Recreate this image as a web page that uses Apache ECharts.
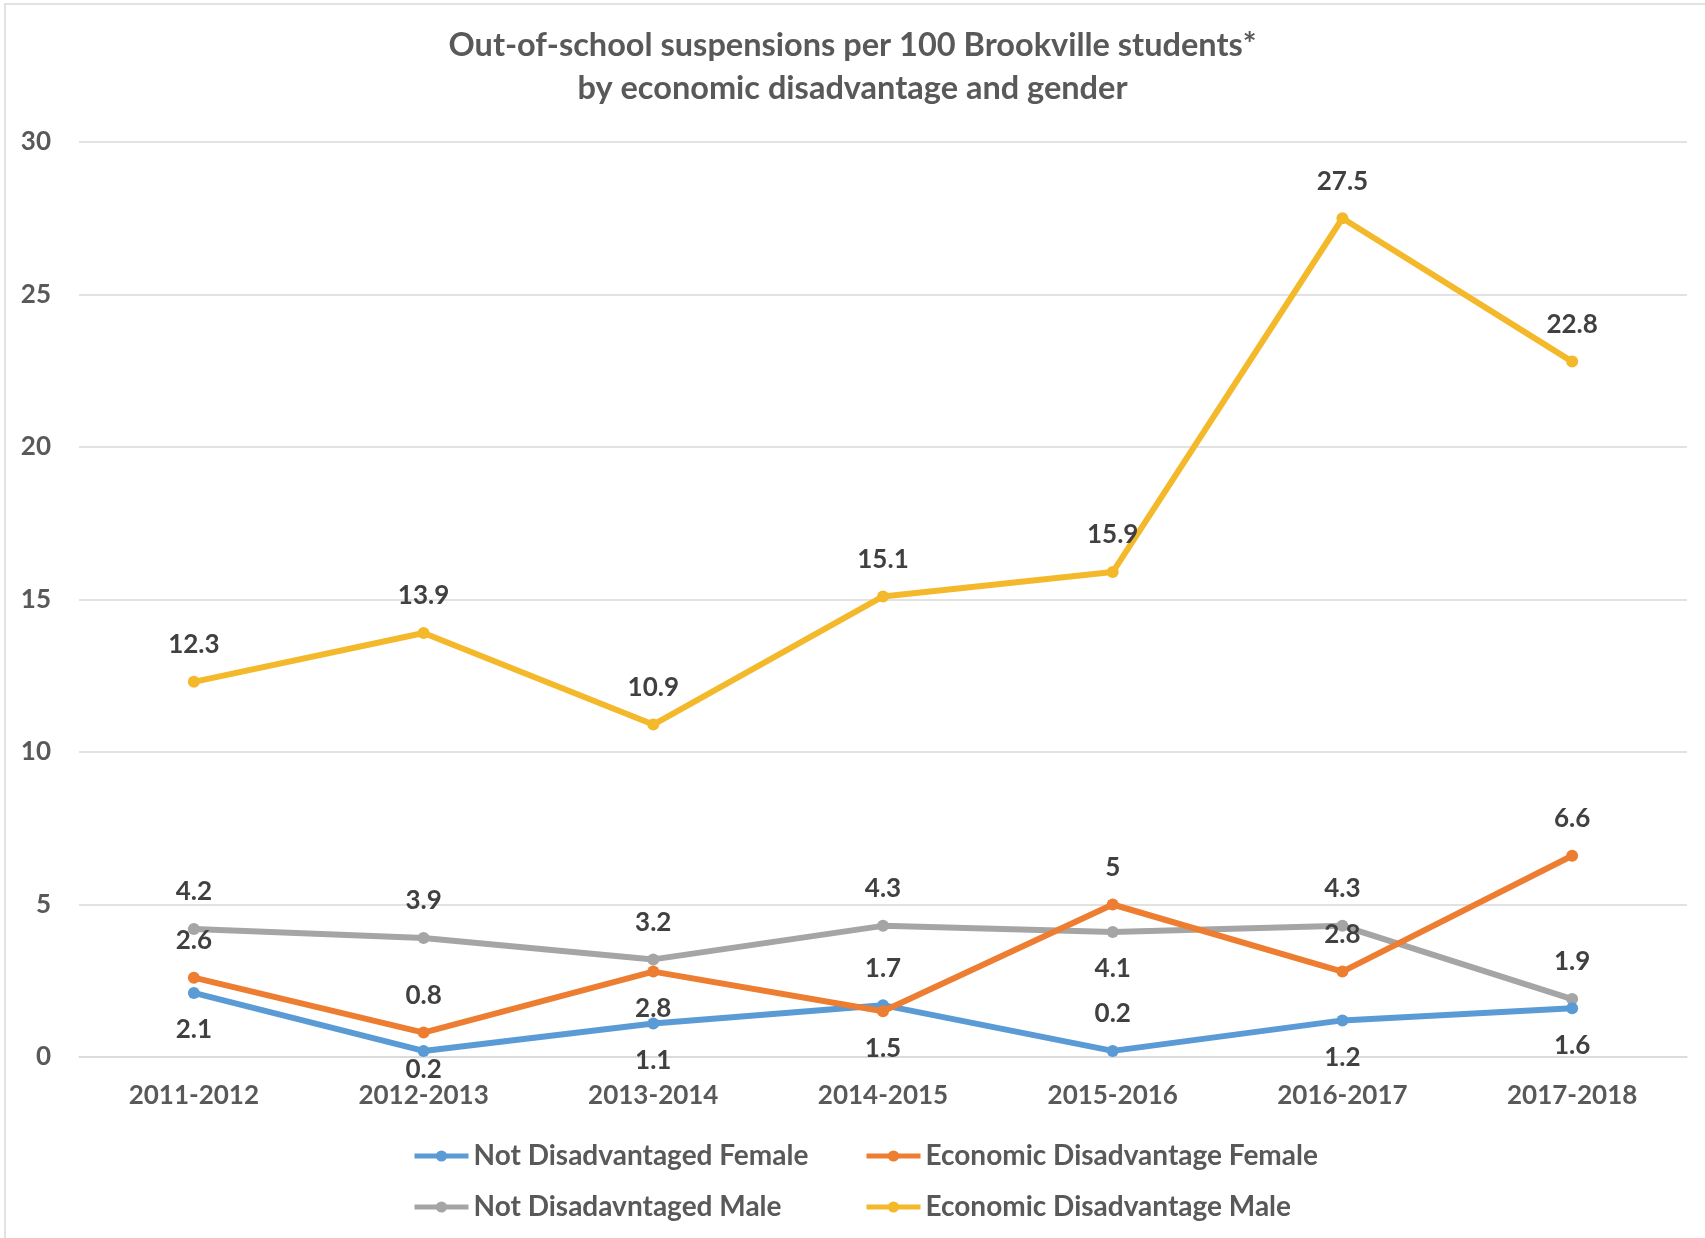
<!DOCTYPE html>
<html><head><meta charset="utf-8">
<script src="https://cdn.jsdelivr.net/npm/echarts@6/dist/echarts.min.js"></script>
<style>html,body{margin:0;padding:0;background:#fff}#c{width:1705px;height:1238px}</style>
</head><body><div id="c"></div>
<script>
const categories = ['2011-2012','2012-2013','2013-2014','2014-2015','2015-2016','2016-2017','2017-2018'];
const notDisFemale = [2.1, 0.2, 1.1, 1.7, 0.2, 1.2, 1.6];
const econDisFemale = [2.6, 0.8, 2.8, 1.5, 5, 2.8, 6.6];
const notDisMale = [4.2, 3.9, 3.2, 4.3, 4.1, 4.3, 1.9];
const econDisMale = [12.3, 13.9, 10.9, 15.1, 15.9, 27.5, 22.8];
const seriesNames = ['Not Disadvantaged Female','Economic Disadvantage Female','Not Disadavntaged Male','Economic Disadvantage Male'];
// label placement per point (above/below)
const posNDF = ['bottom','bottom','bottom','top','top','bottom','bottom'];
const posEDF = ['top','top','bottom','bottom','top','top','top'];
const posNDM = ['top','top','top','top','bottom','top','top'];
const posEDM = ['top','top','top','top','top','top','top'];

const FONT = 'Lato, "Open Sans", sans-serif';
const colors = ['#5B9BD5','#ED7D31','#A5A5A5','#F4B92A'];

function mk(name, vals, pos, color, z, dists) {
  return {
    name, type: 'line',
    data: vals.map((v,i)=>({value:v, label:{position:pos[i], distance: (dists && dists[i] != null) ? dists[i] : 18}})),
    symbol: 'circle', symbolSize: 12, z,
    lineStyle: {width: 6, color}, itemStyle: {color},
    label: {show: true, fontFamily: FONT, fontWeight: 'bold', fontSize: 26, color: '#404040'}
  };
}

const legendCommon = {orient:'vertical', top: 1137, itemWidth: 54, itemHeight: 14, itemGap: 23,
  lineStyle: {width: 5}, textStyle:{fontFamily:FONT, fontSize:28, color:'#595959', fontWeight:'bold'}};

const chart = echarts.init(document.getElementById('c'));
chart.setOption({
  animation: false,
  color: colors,
  title: {
    text: 'Out-of-school suspensions per 100 Brookville students*\nby economic disadvantage and gender',
    left: 'center', top: 19,
    textStyle: {fontFamily: FONT, fontWeight: 'bold', fontSize: 32.5, color: '#595959', lineHeight: 43}
  },
  graphic: [{type:'polyline', shape:{points:[[5,1238],[5,4],[1705,4]]}, style:{fill:'none', stroke:'#D9D9D9', lineWidth:1.5}, silent:true}],
  legend: [
    Object.assign({data:[seriesNames[0], seriesNames[2]], left: 407}, legendCommon),
    Object.assign({data:[seriesNames[1], seriesNames[3]], left: 859}, legendCommon)
  ],
  grid: {left: 79, right: 18, top: 142, bottom: 181, containLabel: false},
  xAxis: {
    type: 'category', data: categories, boundaryGap: true,
    axisLine: {show: true, lineStyle: {color: '#D9D9D9', width: 1.5}}, axisTick: {show: false},
    axisLabel: {fontFamily: FONT, fontWeight: 'bold', fontSize: 26, color: '#595959', margin: 26}
  },
  yAxis: {
    type: 'value', min: 0, max: 30, interval: 5,
    axisLine: {show: false}, axisTick: {show: false},
    splitLine: {lineStyle: {color: '#D9D9D9', width: 1.5}},
    axisLabel: {fontFamily: FONT, fontWeight: 'bold', fontSize: 26, color: '#595959', margin: 28}
  },
  series: [
    mk(seriesNames[0], notDisFemale, posNDF, colors[0], 4, [null,0,null,null,null,null,null]),
    mk(seriesNames[1], econDisFemale, posEDF, colors[1], 5),
    mk(seriesNames[2], notDisMale, posNDM, colors[2], 3),
    mk(seriesNames[3], econDisMale, posEDM, colors[3], 2)
  ]
});
</script></body></html>
